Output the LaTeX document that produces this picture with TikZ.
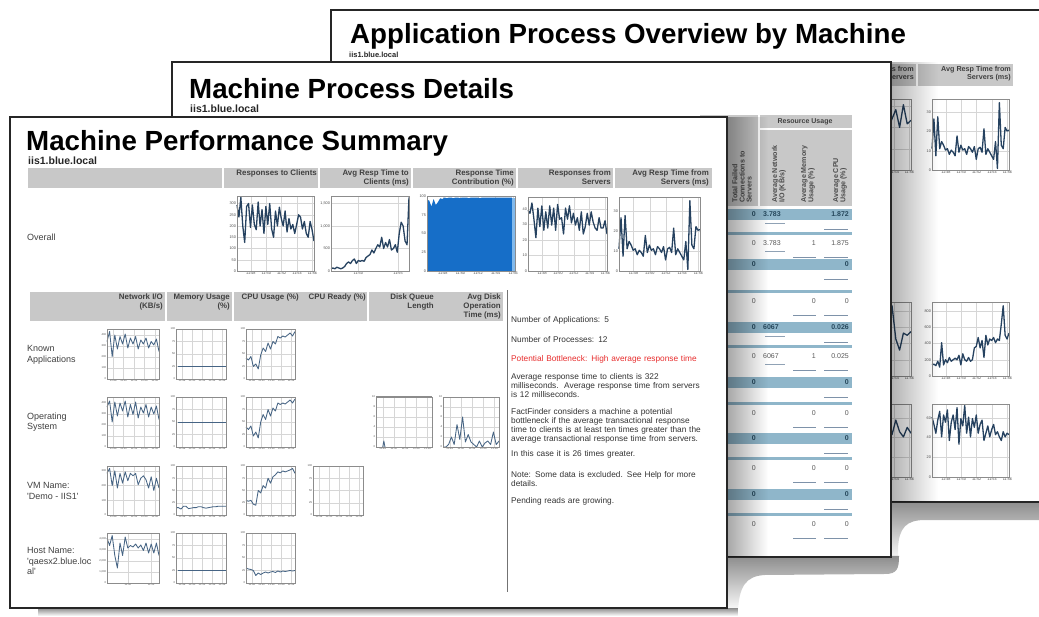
\documentclass[tikz,border=0pt]{standalone}
\usepackage{fontspec}
\setmainfont{Liberation Sans}
\usetikzlibrary{fadings}

\definecolor{headgray}{RGB}{200,200,200}
\definecolor{gridgray}{RGB}{214,214,214}
\definecolor{plotblue}{RGB}{38,66,96}
\definecolor{smallblue}{RGB}{70,100,132}
\definecolor{areablue}{RGB}{22,110,200}
\definecolor{arealight}{RGB}{130,185,235}
\definecolor{bandblue}{RGB}{143,182,202}
\definecolor{banddark}{RGB}{38,72,92}
\definecolor{alertred}{RGB}{232,45,45}

\tikzfading[name=shadowfade, left color=transparent!0, right color=transparent!100]
\tikzfading[name=dropfade, top color=transparent!0, bottom color=transparent!100]

\tikzset{
	paper/.style={fill=white, draw=black!85, line width=1.3pt},
	pagetitle/.style={font=\fontsize{27.7}{30}\selectfont\bfseries, inner sep=0pt},
	pagehost/.style={font=\fontsize{10.5}{12}\selectfont\bfseries, text=black!85, inner sep=0pt},
	headbar/.style={fill=headgray},
	headsep/.style={draw=white, line width=1.5pt},
	colhead/.style={font=\fontsize{7.9}{8.6}\selectfont\bfseries, text=black!75, align=right, inner sep=0pt},
	rothead/.style={font=\fontsize{7.1}{7.2}\selectfont\bfseries, text=black!70, align=left, inner sep=0pt, rotate=90},
	rowlabel/.style={font=\fontsize{9}{10.5}\selectfont, text=black!75, align=left, inner sep=0pt},
	note/.style={font=\fontsize{8.3}{9}\selectfont, text=black!80, align=left, text width=220pt, inner sep=0pt},
	gridline/.style={draw=gridgray, line width=0.4pt},
	chartframe/.style={draw=black!45, line width=0.5pt},
	ticklabel/.style={font=\fontsize{3.8}{4}\selectfont, text=black!70, inner sep=0.9pt},
	chartline/.style={draw=plotblue, line width=1.3pt, line join=round},
	thinline/.style={draw=smallblue, line width=0.85pt, line join=round},
	band/.style={fill=bandblue},
	valbold/.style={font=\fontsize{7}{8}\selectfont\bfseries, text=banddark, inner sep=0pt},
	valplain/.style={font=\fontsize{7}{8}\selectfont, text=black!65, inner sep=0pt},
	cellrule/.style={draw=smallblue!70, line width=0.6pt}
}

% #1 left, #2 top, #3 width, #4 height, #5 y ticks, #6 x ticks, #7 data
\newcommand{\plotpanel}[7]{%
	\begin{scope}[shift={(#1,#2+#4)}, x=#3pt, y=#4pt]
		\foreach \p/\t in {#5} {
			\draw[gridline] (0,\p) -- (1,\p);
			\node[ticklabel, anchor=east] at (0,\p) {\t};
		}
		\foreach \p/\t in {#6} {
			\draw[gridline] (\p,0) -- (\p,1);
			\node[ticklabel, anchor=north] at (\p,0) {\t};
		}
		#7
		\draw[chartframe] (0,0) rectangle (1,1);
	\end{scope}}

% polyline: step, first value, other values
\newcommand{\trace}[4][chartline]{\draw[#1] (0,#3) \foreach \v [count=\i] in {#4} {-- (\i*#2,\v)};}

\begin{document}
\begin{tikzpicture}[x=1pt, y=-1pt]
	\useasboundingbox (0,0) rectangle (1039,616);

	% page 3: application process overview
	\fill[black!45, path fading=dropfade] (885,501) -- (1039,501) -- (1039,520) -- (925,520) .. controls (906,520) and (899,528) .. (898,548) -- (898,562) -- (885,562) -- cycle;
	\draw[paper] (331,10) rectangle (1050,502);
	\node[pagetitle, anchor=base west] (apptitle) at (350,43) {Application Process Overview by Machine};
	\node[pagehost, font=\fontsize{7.5}{9}\selectfont\bfseries, anchor=base west] (apphost) at (349,57) {iis1.blue.local};
	\fill[headbar] (800,64) rectangle (1013,86);
	\draw[headsep] (917,64) -- (917,86);
	\node[colhead, font=\fontsize{7.2}{8.2}\selectfont\bfseries, anchor=north east] (apprespsrv) at (914,66) {Responses from\\Servers};
	\node[colhead, font=\fontsize{7.2}{8.2}\selectfont\bfseries, anchor=north east] (appavgsrv) at (1011,66) {Avg Resp Time from\\Servers (ms)};

	% left column lies mostly under page 2, its tick texts are hidden
	\plotpanel{835}{99}{76}{71}{0/{},.3/{},.6/{},.9/{}}{.58/{},.78/11:54,.98/11:56}{%
		\trace{0.05}{0.6}{0.8,0.55,0.85,0.6,0.75,0.5,0.7,0.62,0.8,0.55,0.7,0.65,0.78,0.6,0.72,0.85,0.6,0.92,0.65,0.7}}
	\plotpanel{932}{99}{77}{71}{0/0,.27/10,.54/20,.81/30}{.18/11:48,.38/11:50,.58/11:52,.78/11:54,.98/11:56}{%
		\trace{0.025}{0.3}{0.72,0.2,0.75,0.3,0.4,0.35,0.28,0.3,0.22,0.28,0.25,0.2,0.48,0.25,0.35,0.28,0.3,0.22,0.33,0.3,0.25,0.33,0.15,0.3,0.32,0.25,0.58,0.22,0.3,0.25,0.2,0.15,0.4,0.02,0.95,0.35,0.3,0.6,0.55,0.56}}
	\plotpanel{835}{302}{76}{74}{0/{},.22/{},.44/{},.66/{},.88/{}}{.58/{},.78/11:54,.98/11:56}{%
		\trace{0.05}{0.4}{0.45,0.5,0.42,0.55,0.48,0.6,0.5,0.45,0.55,0.5,0.58,0.52,0.6,0.55,0.95,0.5,0.35,0.58,0.55,0.6}}
	\plotpanel{932}{302}{77}{74}{0/0,.22/200,.44/400,.66/600,.88/800}{.18/11:48,.38/11:50,.58/11:52,.78/11:54,.98/11:56}{%
		\trace{0.025}{0.15}{0.16,0.14,0.2,0.12,0.45,0.15,0.22,0.18,0.25,0.2,0.22,0.24,0.22,0.28,0.15,0.3,0.22,0.2,0.25,0.2,0.22,0.38,0.4,0.52,0.38,0.48,0.25,0.55,0.42,0.5,0.48,0.52,0.45,0.5,0.48,0.7,0.95,0.55,0.5,0.58}}
	\plotpanel{835}{404}{76}{73}{0/{},.27/{},.54/{},.81/{}}{.58/{},.78/11:54,.98/11:56}{%
		\trace{0.05}{0.6}{0.7,0.55,0.8,0.6,0.75,0.5,0.7,0.65,0.6,0.75,0.55,0.7,0.62,0.72,0.58,0.78,0.62,0.55,0.68,0.6}}
	\plotpanel{932}{404}{77}{73}{0/0,.27/20,.54/40,.81/60}{.18/11:48,.38/11:50,.58/11:52,.78/11:54,.98/11:56}{%
		\trace{0.025}{0.82}{0.72,0.6,0.78,0.9,0.55,0.85,0.75,0.92,0.5,0.75,0.85,0.65,0.95,0.45,0.8,0.7,0.98,0.6,0.82,0.55,0.8,0.68,0.85,0.6,0.72,0.78,0.5,0.6,0.7,0.55,0.65,0.72,0.58,0.62,0.55,0.5,0.62,0.55,0.6,0.58}}

	% page 2: machine process details
	\fill[black, opacity=0.3, path fading=shadowfade] (891,62) rectangle (938,502);
	\fill[black!45, path fading=dropfade] (727,556) -- (899,556) .. controls (899,569) and (897,574) .. (885,574) -- (765,575) .. controls (746,576) and (739,586) .. (738,612) -- (727,612) -- cycle;
	\draw[paper] (172,62) rectangle (891,557);
	\node[pagetitle, anchor=base west] (proctitle) at (189,98) {Machine Process Details};
	\node[pagehost, anchor=base west] (prochost) at (190,112) {iis1.blue.local};
	\fill[headbar] (700,115) rectangle (852,206);
	\draw[headsep] (759,115) -- (759,206);
	\draw[headsep] (759,129) -- (852,129);
	\node[colhead, font=\fontsize{7}{8}\selectfont\bfseries] (resusage) at (805,122) {Resource Usage};
	\node[rothead, anchor=west] (failhead) at (742,203) {Total Failed\\Connections to\\Servers};
	\node[rothead, anchor=west] (nethead) at (779,203) {Average Network\\I/O (KB/s)};
	\node[rothead, anchor=west] (memhead) at (808,203) {Average Memory\\Usage (\%)};
	\node[rothead, anchor=west] (cpuhead) at (840,203) {Average CPU\\Usage (\%)};

	\foreach \y in {209,259,322,377,433,489} {
		\fill[band] (700,\y) rectangle (852,\y+11);
		\node[valbold, anchor=east] at (756,\y+5.5) {0};
		\draw[cellrule] (824,\y+20) -- (848,\y+20);
	}
	\foreach \y in {232,290,345,402,457,513} {
		\fill[band] (700,\y) rectangle (852,\y+3);
		\node[valplain, anchor=east] at (756,\y+11) {0};
		\draw[cellrule] (793,\y+25) -- (816,\y+25);
		\draw[cellrule] (824,\y+25) -- (848,\y+25);
	}
	\node[valbold, anchor=west] (net1) at (763,214.5) {3.783};
	\node[valbold, anchor=east] (cpu1) at (849,214.5) {1.872};
	\node[valplain, anchor=west] (net2) at (763,243) {3.783};
	\node[valplain, anchor=east] (mem2) at (816,243) {1};
	\node[valplain, anchor=east] (cpu2) at (849,243) {1.875};
	\node[valbold, anchor=east] (cpu3) at (849,264.5) {0};
	\node[valplain, anchor=east] (mem4) at (816,301) {0};
	\node[valplain, anchor=east] (cpu4) at (849,301) {0};
	\node[valbold, anchor=west] (net5) at (763,327.5) {6067};
	\node[valbold, anchor=east] (cpu5) at (849,327.5) {0.026};
	\node[valplain, anchor=west] (net6) at (763,356) {6067};
	\node[valplain, anchor=east] (mem6) at (816,356) {1};
	\node[valplain, anchor=east] (cpu6) at (849,356) {0.025};
	\node[valbold, anchor=east] (cpu7) at (849,382.5) {0};
	\node[valplain, anchor=east] (mem8) at (816,413) {0};
	\node[valplain, anchor=east] (cpu8) at (849,413) {0};
	\node[valbold, anchor=east] (cpu9) at (849,438.5) {0};
	\node[valplain, anchor=east] (mem10) at (816,468) {0};
	\node[valplain, anchor=east] (cpu10) at (849,468) {0};
	\node[valbold, anchor=east] (cpu11) at (849,494.5) {0};
	\node[valplain, anchor=east] (mem12) at (816,524) {0};
	\node[valplain, anchor=east] (cpu12) at (849,524) {0};
	\draw[smallblue!60, line width=0.4pt] (765,223) -- (785,223);
	\draw[smallblue!60, line width=0.4pt] (765,251) -- (785,251);
	\draw[smallblue!60, line width=0.4pt] (765,336) -- (785,336);
	\draw[smallblue!60, line width=0.4pt] (765,364) -- (785,364);

	% page 1: machine performance summary
	\fill[black, opacity=0.35, path fading=shadowfade] (727,117) rectangle (768,557);
	\fill[black!45, path fading=dropfade] (38,608) rectangle (738,616);
	\draw[paper] (10,117) rectangle (727,608);
	\node[pagetitle, anchor=base west] (sumtitle) at (26,150) {Machine Performance Summary};
	\node[pagehost, anchor=base west] (sumhost) at (28,164) {iis1.blue.local};

	\fill[headbar] (28,168) rectangle (712,188);
	\foreach \x in {223,319,412,517,614} {
		\draw[headsep] (\x,168) -- (\x,188);
	}
	\node[colhead, anchor=north east] (respcli) at (317,169.5) {Responses to Clients};
	\node[colhead, anchor=north east] (avgcli) at (409,169.5) {Avg Resp Time to\\Clients (ms)};
	\node[colhead, anchor=north east] (contrib) at (514,169.5) {Response Time\\Contribution (\%)};
	\node[colhead, anchor=north east] (respsrv) at (611,169.5) {Responses from\\Servers};
	\node[colhead, anchor=north east] (avgsrv) at (709,169.5) {Avg Resp Time from\\Servers (ms)};
	\node[rowlabel, anchor=west] (overall) at (27,237) {Overall};

	\plotpanel{237}{196}{77}{75}{0/0,.15/50,.3/100,.45/150,.6/200,.75/250,.9/300}{.18/11:48,.38/11:50,.58/11:52,.78/11:54,.98/11:56}{%
		\trace{0.025}{0.88}{0.72,0.98,0.6,0.38,0.86,0.9,0.58,0.88,0.62,0.55,0.92,0.6,0.82,0.5,0.86,0.62,0.9,0.56,0.45,0.8,0.6,0.85,0.7,0.6,0.8,0.52,0.7,0.56,0.62,0.5,0.62,0.75,0.72,0.56,0.66,0.5,0.45,0.66,0.55,0.4}}
	\plotpanel{331}{196}{78}{75}{0/0,.3/500,.6/{1,000},.9/{1,500}}{.35/11:50,.86/11:55}{%
		\trace{0.025}{0.03}{0.04,0.03,0.05,0.04,0.03,0.04,0.06,0.1,0.12,0.1,0.14,0.16,0.1,0.14,0.13,0.14,0.13,0.18,0.2,0.22,0.28,0.24,0.3,0.35,0.32,0.45,0.3,0.38,0.32,0.42,0.28,0.3,0.35,0.25,0.5,0.65,0.6,0.4,0.35,0.98}}
	\plotpanel{427}{196}{88}{75}{0/0,.25/25,.5/50,.75/75,1/100}{.18/11:48,.38/11:50,.58/11:52,.78/11:54,.98/11:56}{%
		\fill[areablue] (0,0) -- (0,0.95) \foreach \v [count=\i] in {0.94,0.86,0.96,0.88,0.92,0.97,0.96,0.98,0.97,0.98,0.98,0.97,0.98,0.98,0.97,0.98,0.98,0.98,0.97,0.98,0.98,0.98,0.98,0.97,0.98,0.98,0.98,0.98,0.98,0.98,0.98,0.98,0.98,0.98,0.98,0.98,0.98,0.98} {-- (\i*0.025,\v)} -- (0.965,0.98) -- (0.965,0) -- cycle;
		\fill[arealight] (0.965,0) rectangle (1,0.98);}
	\plotpanel{528}{197}{79}{74}{0/0,.21/10,.42/20,.63/30,.84/40}{.18/11:48,.38/11:50,.58/11:52,.78/11:54,.98/11:56}{%
		\trace{0.025}{0.82}{0.78,0.92,0.7,0.45,0.85,0.6,0.88,0.55,0.8,0.58,0.88,0.62,0.85,0.55,0.9,0.7,0.72,0.5,0.85,0.7,0.88,0.65,0.78,0.62,0.72,0.55,0.8,0.5,0.6,0.78,0.62,0.8,0.66,0.58,0.55,0.72,0.58,0.58,0.68,0.5}}
	\plotpanel{619}{197}{81}{74}{0/0,.27/10,.54/20,.81/30}{.18/11:48,.38/11:50,.58/11:52,.78/11:54,.98/11:56}{%
		\trace{0.025}{0.3}{0.72,0.2,0.75,0.3,0.4,0.35,0.28,0.3,0.22,0.28,0.25,0.2,0.48,0.25,0.35,0.28,0.3,0.22,0.33,0.3,0.25,0.33,0.15,0.3,0.32,0.25,0.58,0.22,0.3,0.25,0.2,0.15,0.4,0.02,0.95,0.35,0.3,0.6,0.55,0.56}}

	\fill[headbar] (30,292) rectangle (503,321);
	\foreach \x in {166,233,368} {
		\draw[headsep] (\x,292) -- (\x,321);
	}
	\node[colhead, anchor=north east] (nethd) at (163,294) {Network I/O\\(KB/s)};
	\node[colhead, anchor=north east] (memhd) at (230,294) {Memory Usage\\(\%)};
	\node[colhead, anchor=north east] (cpuhd) at (299,294) {CPU Usage (\%)};
	\node[colhead, anchor=north east] (readyhd) at (366,294) {CPU Ready (\%)};
	\node[colhead, anchor=north east] (queuehd) at (434,294) {Disk Queue\\Length};
	\node[colhead, anchor=north east] (diskhd) at (501,294) {Avg Disk\\Operation\\Time (ms)};

	\node[rowlabel, anchor=west] (known) at (27,355) {Known\\Applications};
	\node[rowlabel, anchor=west] (opsys) at (27,422) {Operating\\System};
	\node[rowlabel, anchor=west] (vmname) at (27,491) {VM Name:\\\textquotesingle Demo - IIS1\textquotesingle};
	\node[rowlabel, anchor=west] (hostname) at (27,561) {Host Name:\\\textquotesingle qaesx2.blue.loc\\al\textquotesingle};

	\begin{scope}[ticklabel/.style={font=\fontsize{2.7}{3}\selectfont, text=black!70, inner sep=0.7pt}]
		% known applications
		\plotpanel{107}{329}{52}{50}{0/0,.22/100,.44/200,.66/300,.88/400}{.12/11:48,.32/11:50,.52/11:52,.72/11:54,.92/11:56}{%
			\trace[thinline]{0.05}{0.75}{0.95,0.45,0.88,0.6,0.85,0.7,0.9,0.62,0.82,0.7,0.85,0.6,0.78,0.7,0.82,0.62,0.75,0.68,0.8,0.55}}
		\plotpanel{176}{329}{50}{50}{0/0,.25/25,.5/50,.75/75,1/100}{.12/11:48,.32/11:50,.52/11:52,.72/11:54,.92/11:56}{%
			\draw[thinline] (0.03,0.25) -- (1,0.25);}
		\plotpanel{246}{329}{49}{50}{0/0,.25/25,.5/50,.75/75,1/100}{.12/11:48,.32/11:50,.52/11:52,.72/11:54,.92/11:56}{%
			\trace[thinline]{0.05}{0.42}{0.38,0.45,0.25,0.3,0.2,0.48,0.62,0.55,0.72,0.6,0.75,0.7,0.85,0.82,0.86,0.84,0.88,0.92,0.86,0.95}}
		% operating system
		\plotpanel{107}{397}{52}{50}{0/0,.22/100,.44/200,.66/300,.88/400}{.12/11:48,.32/11:50,.52/11:52,.72/11:54,.92/11:56}{%
			\trace[thinline]{0.05}{0.8}{0.92,0.5,0.9,0.62,0.88,0.72,0.92,0.6,0.85,0.65,0.9,0.58,0.8,0.68,0.85,0.6,0.8,0.66,0.82,0.55}}
		\plotpanel{176}{397}{50}{50}{0/0,.25/25,.5/50,.75/75,1/100}{.12/11:48,.32/11:50,.52/11:52,.72/11:54,.92/11:56}{%
			\draw[thinline] (0.03,0.5) -- (1,0.5);}
		\plotpanel{246}{397}{49}{50}{0/0,.25/25,.5/50,.75/75,1/100}{.12/11:48,.32/11:50,.52/11:52,.72/11:54,.92/11:56}{%
			\trace[thinline]{0.05}{0.4}{0.35,0.42,0.22,0.3,0.18,0.5,0.65,0.55,0.75,0.62,0.78,0.72,0.88,0.85,0.88,0.86,0.9,0.94,0.88,0.96}}
		\plotpanel{376}{397}{56}{50}{0/0,.2/2,.4/4,.6/6,.8/8,1/10}{.12/11:48,.32/11:50,.52/11:52,.72/11:54,.92/11:56}{%
			\draw[black!45, line width=1.2pt] (0,1) -- (1,1);
			\draw[thinline] (0.12,0) -- (0.14,0.12) -- (0.16,0);}
		\plotpanel{443}{397}{56}{50}{0/0,.2/2,.4/4,.6/6,.8/8,1/10}{.12/11:48,.32/11:50,.52/11:52,.72/11:54,.92/11:56}{%
			\trace[thinline]{0.05}{0}{0,0.05,0.2,0.05,0.45,0.15,0.6,0.1,0.25,0.1,0.05,0,0.12,0,0.08,0.12,0.05,0.3,0.05,0.12}}
		% vm name
		\plotpanel{107}{466}{52}{49}{0/0,.3/100,.6/200,.9/300}{.12/11:48,.32/11:50,.52/11:52,.72/11:54,.92/11:56}{%
			\trace[thinline]{0.05}{0.85}{0.95,0.6,0.9,0.55,0.85,0.65,0.88,0.7,0.85,0.8,0.85,0.62,0.75,0.8,0.72,0.55,0.78,0.5,0.75,0.55}}
		\plotpanel{176}{466}{50}{49}{0/0,.25/25,.5/50,.75/75,1/100}{.12/11:48,.32/11:50,.52/11:52,.72/11:54,.92/11:56}{%
			\trace[thinline]{0.05}{0.15}{0.15,0.12,0.18,0.18,0.13,0.14,0.15,0.15,0.17,0.17,0.15,0.14,0.15,0.16,0.17,0.17,0.18,0.18,0.18,0.18}}
		\plotpanel{246}{466}{49}{49}{0/0,.25/25,.5/50,.75/75,1/100}{.12/11:48,.32/11:50,.52/11:52,.72/11:54,.92/11:56}{%
			\trace[thinline]{0.05}{0.3}{0.28,0.3,0.22,0.2,0.5,0.45,0.6,0.55,0.75,0.65,0.78,0.82,0.88,0.86,0.9,0.88,0.9,0.92,0.95,0.85}}
		\plotpanel{313}{466}{50}{49}{0/0,.25/25,.5/50,.75/75,1/100}{.12/11:48,.32/11:50,.52/11:52,.72/11:54,.92/11:56}{}
		% host name
		\plotpanel{107}{533}{52}{50}{0/0,.22/{1,000},.44/{2,000},.66/{3,000},.88/{4,000}}{.4/11:50,.85/11:55}{%
			\trace[thinline]{0.05}{0.9}{0.75,0.95,0.55,0.3,0.8,0.55,0.92,0.7,0.75,0.72,0.78,0.7,0.76,0.65,0.8,0.6,0.78,0.6,0.8,0.55}}
		\plotpanel{176}{533}{50}{50}{0/0,.25/25,.5/50,.75/75,1/100}{.12/11:48,.32/11:50,.52/11:52,.72/11:54,.92/11:56}{%
			\draw[thinline] (0.03,0.25) -- (1,0.25);}
		\plotpanel{246}{533}{49}{50}{0/0,.25/25,.5/50,.75/75,1/100}{.12/11:48,.32/11:50,.52/11:52,.72/11:54,.92/11:56}{%
			\trace[thinline]{0.05}{0.3}{0.28,0.27,0.25,0.15,0.2,0.17,0.2,0.22,0.2,0.22,0.23,0.21,0.24,0.22,0.24,0.23,0.24,0.25,0.24,0.25}}
	\end{scope}

	\draw[black!55, line width=0.6pt] (507,290) -- (507,592);
	\node[note, anchor=north west] (napps) at (511,316) {Number of Applications: 5};
	\node[note, anchor=north west] (nprocs) at (511,336.5) {Number of Processes: 12};
	\node[note, anchor=north west, text=alertred] (bottleneck) at (511,355) {Potential Bottleneck: High average response time};
	\node[note, anchor=north west] (avgtext) at (511,373) {Average response time to clients is 322\\milliseconds.\ \ Average response time from servers\\is 12 milliseconds.};
	\node[note, anchor=north west] (facttext) at (511,408.5) {FactFinder considers a machine a potential\\bottleneck if the average transactional response\\time to clients is at least ten times greater than the\\average transactional response time from servers.};
	\node[note, anchor=north west] (casetext) at (511,450) {In this case it is 26 times greater.};
	\node[note, anchor=north west] (notetext) at (511,471.5) {Note: Some data is excluded. See Help for more\\details.};
	\node[note, anchor=north west] (pending) at (511,497) {Pending reads are growing.};
\end{tikzpicture}
\end{document}
